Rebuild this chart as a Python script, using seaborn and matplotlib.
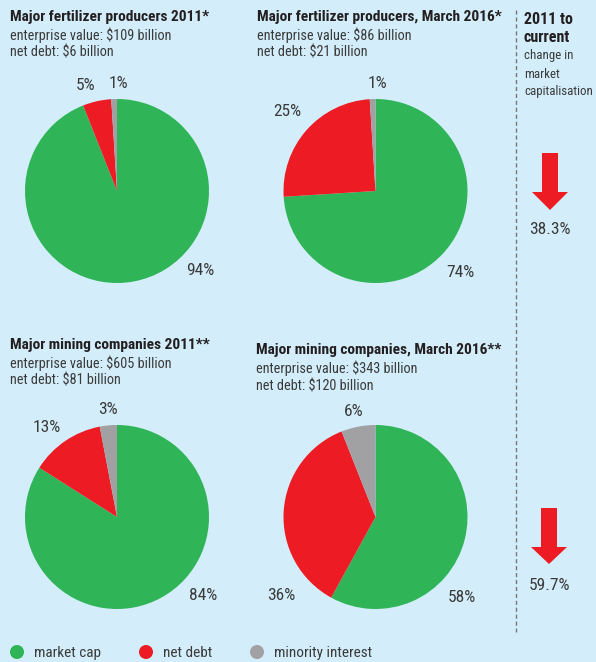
import matplotlib
matplotlib.use("Agg")
import matplotlib.pyplot as plt
from matplotlib.patches import Polygon, Circle
import seaborn as sns

# ---- data ----
categories = ["market cap", "net debt", "minority interest"]
fert_2011 = [94, 5, 1]
fert_2016 = [74, 25, 1]
mining_2011 = [84, 13, 3]
mining_2016 = [58, 36, 6]
change_labels = ["38.3%", "59.7%"]

titles = ["Major fertilizer producers 2011*",
          "Major fertilizer producers, March 2016*",
          "Major mining companies 2011**",
          "Major mining companies, March 2016**"]
subtitles = [["enterprise value: $109 billion", "net debt: $6 billion"],
             ["enterprise value: $86 billion", "net debt: $21 billion"],
             ["enterprise value: $605 billion", "net debt: $81 billion"],
             ["enterprise value: $343 billion", "net debt: $120 billion"]]

BG = "#d3eefa"
colors = ["#2fb457", "#ed1c24", "#a1a1a4"]
TXT = "#231f20"
SUB = "#3a3a3a"

sns.set_theme(style="white", rc={"figure.facecolor": BG, "axes.facecolor": BG})
plt.rcParams["font.family"] = ["Roboto Condensed", "Roboto", "DejaVu Sans"]

W, H = 596, 662
fig = plt.figure(figsize=(W / 100, H / 100), dpi=100)
fig.patch.set_facecolor(BG)

def fx(x):
    return x / W

def fy(y):
    return 1 - y / H

# pies
pies = [fert_2011, fert_2016, mining_2011, mining_2016]
centers = [(117, 191), (375.5, 191), (117, 517), (375.5, 517)]
R = 92
for vals, (cx, cy) in zip(pies, centers):
    ax = fig.add_axes([fx(cx - R), fy(cy + R), 2 * R / W, 2 * R / H])
    ax.pie(vals, colors=colors, startangle=90, counterclock=False,
           wedgeprops=dict(linewidth=0))
    ax.set_xlim(-1, 1)
    ax.set_ylim(-1, 1)
    ax.set_aspect("equal")
    ax.axis("off")

# percent labels
pct_pos = [
    [(200, 270), (86, 85), (118, 83)],
    [(460, 273), (287, 111), (377, 84)],
    [(203, 595), (47, 428), (108, 410)],
    [(462, 597), (281, 595), (354, 412)],
]
for vals, poss in zip(pies, pct_pos):
    for v, (x, y) in zip(vals, poss):
        fig.text(fx(x), fy(y), f"{v}%", ha="center", va="center",
                 fontsize=12.5, color=SUB)

# titles
title_pos = [(10, 17), (257, 17), (10, 345), (256, 350)]
for t, subs, (x, y) in zip(titles, subtitles, title_pos):
    fig.text(fx(x), fy(y), t, ha="left", va="center", fontsize=11.1,
             fontweight="heavy", color=TXT)
    for i, s in enumerate(subs):
        fig.text(fx(x), fy(y + 18 * (i + 1)), s, ha="left", va="center",
                 fontsize=10.3, color=SUB)

# overlay axes in pixel space
ov = fig.add_axes([0, 0, 1, 1])
ov.set_xlim(0, W)
ov.set_ylim(H, 0)
ov.axis("off")
ov.patch.set_alpha(0)

# dashed divider
ov.plot([516, 516], [10, 632], color="#777777", lw=1, ls=(0, (3, 2)))

# right column header
ov.text(524, 19, "2011 to", ha="left", va="center", fontsize=11.5,
        fontweight="heavy", color=TXT)
ov.text(524, 37, "current", ha="left", va="center", fontsize=11.5,
        fontweight="heavy", color=TXT)
for i, s in enumerate(["change in", "market", "capitalisation"]):
    ov.text(524, 56 + 18 * i, s, ha="left", va="center", fontsize=9.3,
            color=SUB)

# arrows
arrows = [(550, 153, 192, 210), (549, 508, 547, 564)]
text_y = [229, 585]
for (cx, top, hs, tip), lab, ty in zip(arrows, change_labels, text_y):
    sw, hw = 8, 18
    poly = [(cx - sw, top), (cx + sw, top), (cx + sw, hs), (cx + hw, hs),
            (cx, tip), (cx - hw, hs), (cx - sw, hs)]
    ov.add_patch(Polygon(poly, closed=True, color=colors[1], lw=0))
    ov.text(cx, ty, lab, ha="center", va="center", fontsize=12.5, color=SUB)

# legend
leg_x = [17, 146, 257]
for c, lab, x in zip(colors, categories, leg_x):
    ov.add_patch(Circle((x, 652), 7, color=c, lw=0))
    ov.text(x + 17, 653, lab, ha="left", va="center", fontsize=11,
            color=SUB)

fig.savefig("out.png", dpi=100, facecolor=BG)
